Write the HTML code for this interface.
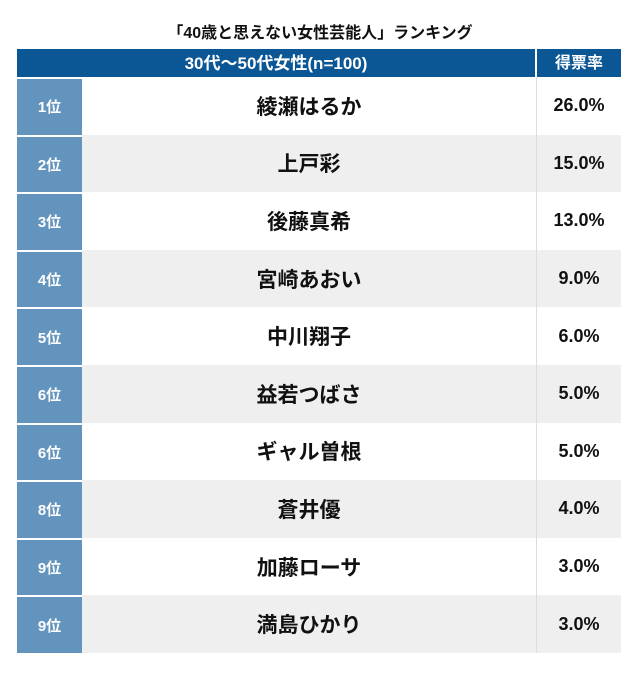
<!DOCTYPE html>
<html><head><meta charset="utf-8"><style>
body{margin:0;width:640px;height:687px;background:#fff;font-family:"Liberation Sans","Noto Sans CJK JP",sans-serif;position:relative;overflow:hidden}
.title{position:absolute;top:19px;left:0;width:640px;text-align:center;font-size:16px;font-weight:bold;color:#111}
.hd{position:absolute;top:49px;height:28px;line-height:29px;background:#0b5695;color:#fff;font-weight:bold;text-align:center}
.row{position:absolute;left:17px;width:604px;height:57.6px}
.row div{position:absolute;top:0;height:100%;display:flex;align-items:center;justify-content:center;font-weight:bold;color:#111}
.k{left:0;width:65px;background:#6394bd;color:#fff!important;font-size:15px;border-top:2px solid #fff;box-sizing:border-box}
.n{left:65px;width:454px;font-size:21px}
.p{left:519px;width:85px;font-size:18px;border-left:1px solid #ddd;box-sizing:border-box}
.g{background:#efefef}
</style></head><body>
<div class="title">「40歳と思えない女性芸能人」ランキング</div>
<div class="hd" style="left:17px;width:518px;font-size:17px">30代〜50代女性(n=100)</div>
<div class="hd" style="left:537px;width:84px;font-size:16px">得票率</div>
<div class="row" style="top:77px"><div class="k">1位</div><div class="n">綾瀬はるか</div><div class="p">26.0%</div></div>
<div class="row g" style="top:134.6px"><div class="k">2位</div><div class="n">上戸彩</div><div class="p">15.0%</div></div>
<div class="row" style="top:192.2px"><div class="k">3位</div><div class="n">後藤真希</div><div class="p">13.0%</div></div>
<div class="row g" style="top:249.8px"><div class="k">4位</div><div class="n">宮崎あおい</div><div class="p">9.0%</div></div>
<div class="row" style="top:307.4px"><div class="k">5位</div><div class="n">中川翔子</div><div class="p">6.0%</div></div>
<div class="row g" style="top:365px"><div class="k">6位</div><div class="n">益若つばさ</div><div class="p">5.0%</div></div>
<div class="row" style="top:422.6px"><div class="k">6位</div><div class="n">ギャル曽根</div><div class="p">5.0%</div></div>
<div class="row g" style="top:480.2px"><div class="k">8位</div><div class="n">蒼井優</div><div class="p">4.0%</div></div>
<div class="row" style="top:537.8px"><div class="k">9位</div><div class="n">加藤ローサ</div><div class="p">3.0%</div></div>
<div class="row g" style="top:595.4px"><div class="k">9位</div><div class="n">満島ひかり</div><div class="p">3.0%</div></div>
</body></html>
